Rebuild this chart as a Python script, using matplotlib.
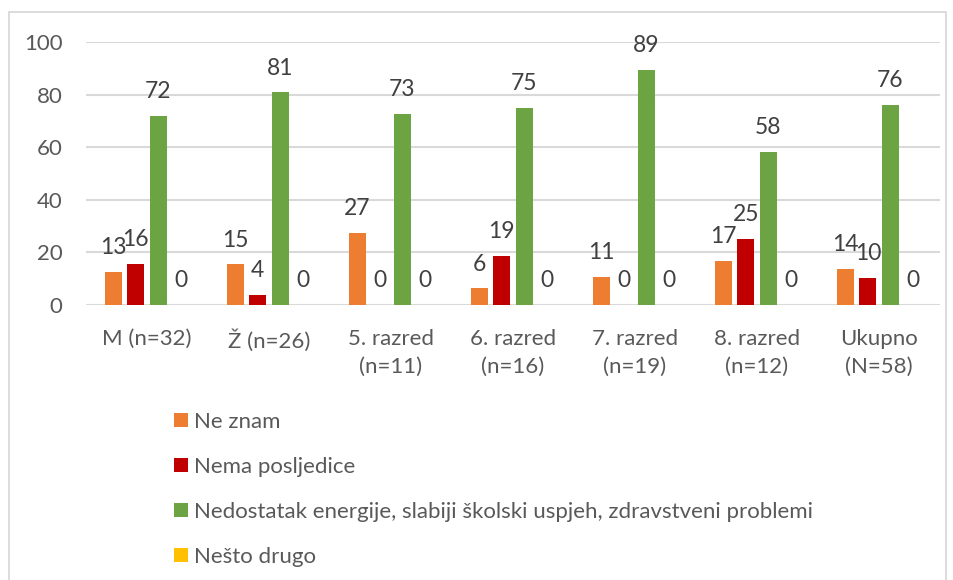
import matplotlib
matplotlib.use("Agg")
import matplotlib.pyplot as plt
import numpy as np
from matplotlib.patches import Patch, Rectangle

# percentages per group (shares of each subgroup)
groups = ["M (n=32)", "Ž (n=26)", "5. razred\n(n=11)", "6. razred\n(n=16)",
          "7. razred\n(n=19)", "8. razred\n(n=12)", "Ukupno\n(N=58)"]
ne_znam = [12.5, 15.4, 27.3, 6.3, 10.5, 16.7, 13.8]
nema_posljedice = [15.6, 3.8, 0.0, 18.8, 0.0, 25.0, 10.3]
nedostatak = [71.9, 80.8, 72.7, 75.0, 89.4, 58.3, 75.9]
nesto_drugo = [0, 0, 0, 0, 0, 0, 0]

series_names = ["Ne znam", "Nema posljedice",
                "Nedostatak energije, slabiji školski uspjeh, zdravstveni problemi",
                "Nešto drugo"]
series_colors = ["#ED7D31", "#C00000", "#6CA443", "#FFC000"]

plt.rcParams["font.family"] = ["Lato", "DejaVu Sans"]

fig = plt.figure(figsize=(9.54, 5.8), dpi=100)
ax = fig.add_axes([86 / 954, 1 - 305 / 580, (940 - 86) / 954, (305 - 42) / 580])

# outer chart border
fig.patches.append(Rectangle((9 / 954, -0.05), (946 - 9) / 954, 1.05 - 12 / 580,
                             transform=fig.transFigure, fill=False,
                             edgecolor="#D9D9D9", linewidth=1.3))

x = np.arange(len(groups))
width = 0.14
step = 0.183
all_series = [ne_znam, nema_posljedice, nedostatak, nesto_drugo]
for i, (vals, col) in enumerate(zip(all_series, series_colors)):
    pos = x + (i - 1.5) * step
    ax.bar(pos, vals, width=width, color=col, zorder=3)
    for px_, v in zip(pos, vals):
        ax.annotate(f"{int(np.floor(v + 0.5))}", (px_, v), xytext=(0, 10),
                    textcoords="offset points", ha="center", va="bottom",
                    fontsize=16.5, color="#404040")

ax.set_xlim(-0.5, len(groups) - 0.5)
ax.set_ylim(0, 100)
ax.set_yticks(range(0, 101, 20))
ax.set_xticks(x)
ax.set_xticklabels(groups, linespacing=1.45)
ax.tick_params(axis="both", length=0, labelsize=16, labelcolor="#595959")
ax.tick_params(axis="y", pad=17)
ax.tick_params(axis="x", pad=17.5)
ax.grid(axis="y", color="#D9D9D9", linewidth=1.5, zorder=0)
for s in ax.spines.values():
    s.set_visible(False)

handles = [Patch(facecolor=c, edgecolor="none") for c in series_colors]
leg = fig.legend(handles, series_names, loc="upper left",
                 bbox_to_anchor=(174 / 954, 1 - 412 / 580), frameon=False,
                 borderpad=0, borderaxespad=0,
                 fontsize=16, labelcolor="#595959", handlelength=0.63,
                 handleheight=0.63, handletextpad=0.27, labelspacing=1.12)

fig.savefig("out.png", dpi=100, facecolor="white")
